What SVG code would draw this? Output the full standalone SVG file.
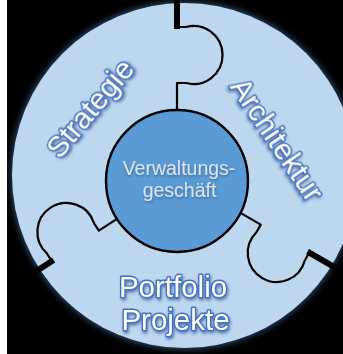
<svg xmlns="http://www.w3.org/2000/svg" width="343" height="354" viewBox="0 0 343 354">
  <defs>
    <filter id="glow" x="-20%" y="-20%" width="140%" height="140%">
      <feGaussianBlur stdDeviation="3"/>
    </filter>
    <filter id="lblShadow" x="-20%" y="-40%" width="140%" height="180%">
      <feDropShadow dx="1" dy="2" stdDeviation="1.4" flood-color="#2f5597" flood-opacity="0.7"/>
    </filter>
    <filter id="ctrShadow" x="-20%" y="-40%" width="140%" height="180%">
      <feDropShadow dx="0.5" dy="1.5" stdDeviation="1" flood-color="#1f3864" flood-opacity="0.55"/>
    </filter>
    <style>
      .label { font-family: "Liberation Sans", Arial, sans-serif; font-size: 29.5px; fill: #ffffff; stroke: #4472c4; stroke-width: 2.8; paint-order: stroke fill; stroke-linejoin: round; text-anchor: middle; filter: url(#lblShadow); }
      .center { font-family: "Liberation Sans", Arial, sans-serif; font-size: 19.5px; fill: #dbe5f1; text-anchor: middle; filter: url(#ctrShadow); }
      .seam { fill: none; stroke: #000000; stroke-width: 2.2; stroke-linejoin: round; }
      .gap { fill: none; stroke: #000000; stroke-width: 6; }
    </style>
    <g id="knob">
      <path class="seam" d="M177,132 V83 H186 A29,29 0 1 0 186,27 H178"/>
      <path class="gap" d="M177,29 V-10"/>
    </g>
  </defs>

  <g id="background">
    <rect x="0" y="0" width="343" height="354" fill="#ffffff"/>
    <rect x="7" y="0" width="336" height="354" fill="#000000"/>
  </g>

  <g id="outer-ring">
    <circle cx="184.5" cy="175.5" r="174" fill="#4f81bd" opacity="0.55" filter="url(#glow)"/>
    <circle cx="184.5" cy="175.5" r="172.5" fill="#bdd7ee"/>
  </g>

  <g id="connectors">
    <use href="#knob"/>
    <use href="#knob" transform="rotate(120 178 178)"/>
    <use href="#knob" transform="rotate(237 178 178)"/>
  </g>

  <g id="node-center">
    <circle cx="177" cy="181" r="71" fill="#5b9bd5" stroke="#000000" stroke-width="2.4"/>
    <text class="center" x="179" y="175">Verwaltungs-</text>
    <text class="center" x="179.5" y="197">geschäft</text>
  </g>

  <g id="node-strategie">
    <text class="label" transform="translate(97.7 115) rotate(-50)">Strategie</text>
  </g>

  <g id="node-architektur">
    <text class="label" transform="translate(268.7 145) rotate(56)">Architektur</text>
  </g>

  <g id="node-portfolio">
    <text class="label" x="173" y="297">Portfolio</text>
    <text class="label" x="175.5" y="330">Projekte</text>
  </g>
</svg>
